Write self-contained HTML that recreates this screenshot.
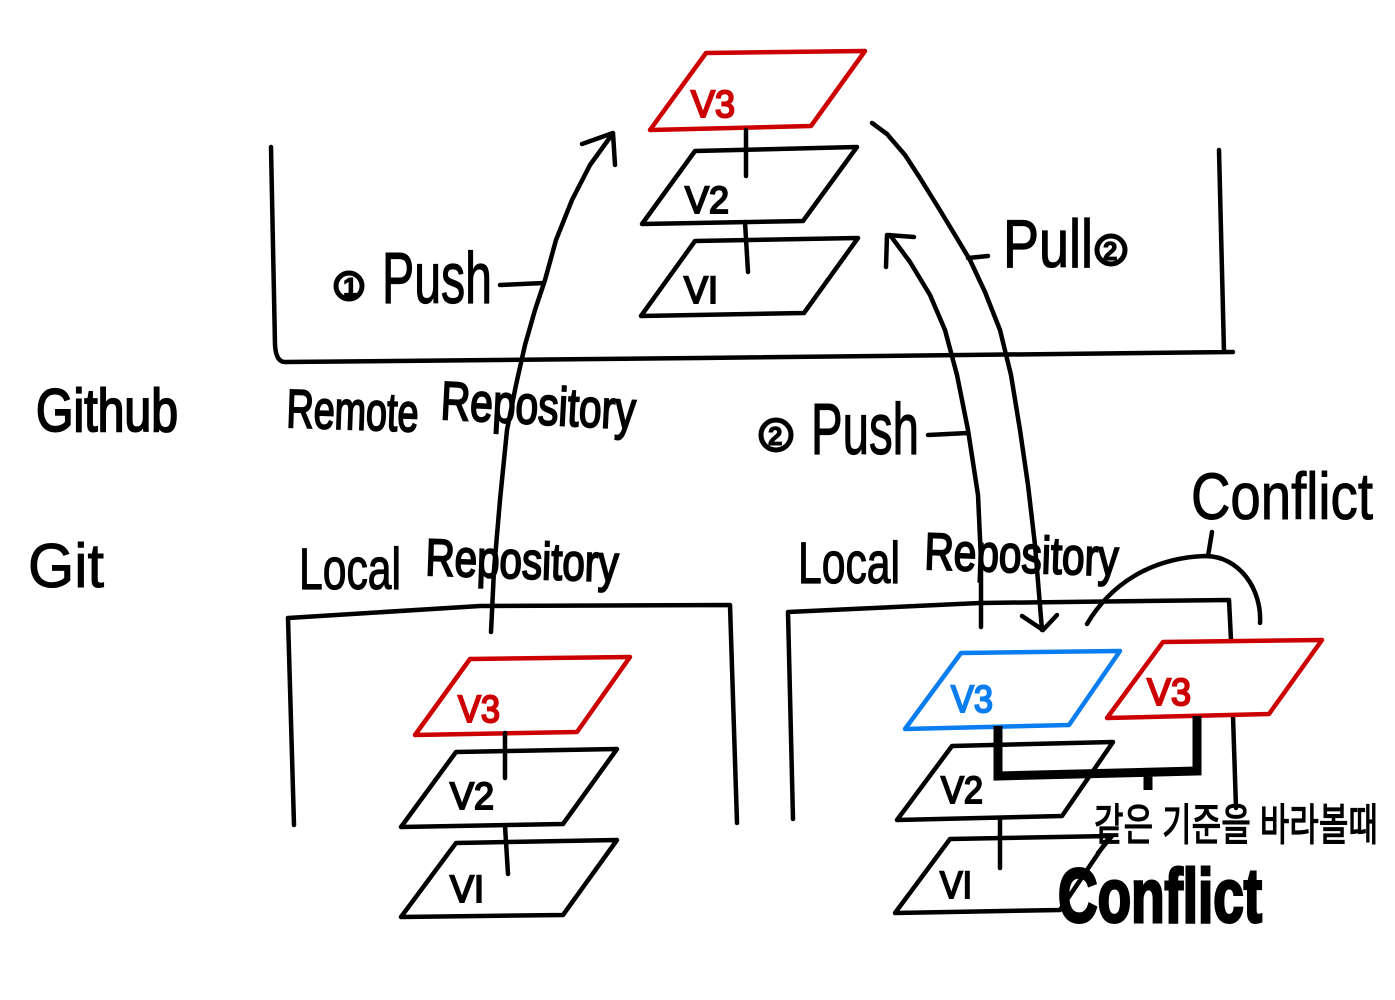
<!DOCTYPE html>
<html><head><meta charset="utf-8"><style>
html,body{margin:0;padding:0;background:#fff}
svg{display:block}
.l{fill:none;stroke:#000;stroke-width:4.5;stroke-linecap:round;stroke-linejoin:round}
.r{fill:none;stroke:#cc0000;stroke-width:4.5;stroke-linecap:round;stroke-linejoin:round}
.b{fill:none;stroke:#0a7df0;stroke-width:4.5;stroke-linecap:round;stroke-linejoin:round}
text{font-family:"Liberation Sans","Noto Sans CJK KR",sans-serif;fill:#000}
</style></head><body>
<svg width="1395" height="1000" viewBox="0 0 1395 1000" xmlns="http://www.w3.org/2000/svg">
<rect width="1395" height="1000" fill="#fff"/>
<!-- remote box -->
<path class="l" d="M271 147 L275 345 Q276 362 285 362 L700 358 L1233 352 M1219 150 L1224 352"/>
<!-- remote planes -->
<path class="r" d="M650 130 L706 53 L865 51 L811 126 Z"/>
<path class="l" d="M642 224 L695 151 L857 147 L803 221 Z"/>
<path class="l" d="M641 316 L695 241 L858 238 L804 313 Z"/>
<path class="l" d="M746 130 V176 M745 222 L748 272"/>
<!-- local left -->
<path class="l" d="M294 825 L288 618 L480 606 L730 605 L737 823"/>
<path class="r" d="M415 735 L470 659 L630 657 L577 732 Z"/>
<path class="l" d="M401 827 L456 752 L617 749 L563 824 Z"/>
<path class="l" d="M401 917 L456 843 L617 840 L563 915 Z"/>
<path class="l" d="M505 733 V778 M505 826 L508 874"/>
<!-- local right -->
<path class="l" d="M793 819 L788 612 L980 603 L1229 600 L1231 640 M1233 716 L1236 808"/>
<path class="b" d="M905 729 L961 653 L1120 651 L1069 725 Z"/>
<path class="r" d="M1107 718 L1163 642 L1322 640 L1269 714 Z"/>
<path class="l" d="M897 820 L952 746 L1113 742 L1062 816 Z"/>
<path class="l" d="M895 913 L950 839 L1110 836 L1060 910 Z"/>
<path class="l" d="M1000 818 V868"/>
<!-- thick bracket -->
<path fill="none" stroke="#000" stroke-width="9" stroke-linejoin="miter" d="M998 726 V776 L1197 771 V716 M1148 773 V790"/>
<path class="l" d="M1112 836 L1098 853"/>
<!-- arrows -->
<path class="l" d="M491 632 L494 570 L500 500 L507 430 L516 385 L525 345 L535 310 L545 280 L556 240 L572 200 L590 165 L611 136 M582 144 L613 133 L615 165"/>
<path class="l" d="M981 627 L981 560 L978 495 L968 430 L957 375 L945 330 L930 295 L910 262 L890 235 M886 267 L887 235 L914 237"/>
<path class="l" d="M872 123 L887 134 L905 155 L920 178 L938 207 L955 235 L970 260 L985 292 L1000 330 L1011 375 L1020 430 L1028 485 L1035 545 L1042 630 M1022 616 L1043 630 L1057 615"/>
<path class="l" d="M500 285 L544 283 M928 435 L968 433 M968 258 L988 256"/>
<!-- conflict bracket -->
<path class="l" d="M1087 624 C1110 585 1150 558 1205 556 C1240 556 1262 590 1260 623 M1208 556 L1212 532"/>
<!-- version labels -->
<g font-size="38" stroke-width="2">
<text x="691" y="117" style="fill:#cc0000" stroke="#cc0000" textLength="44" lengthAdjust="spacingAndGlyphs">V3</text>
<text x="685" y="213" stroke="#000" textLength="44" lengthAdjust="spacingAndGlyphs">V2</text>
<text x="684" y="303" stroke="#000" textLength="34" lengthAdjust="spacingAndGlyphs">VI</text>
<text x="458" y="722" style="fill:#cc0000" stroke="#cc0000" textLength="42" lengthAdjust="spacingAndGlyphs">V3</text>
<text x="450" y="809" stroke="#000" textLength="44" lengthAdjust="spacingAndGlyphs">V2</text>
<text x="450" y="902" stroke="#000" textLength="34" lengthAdjust="spacingAndGlyphs">VI</text>
<text x="951" y="712" style="fill:#0a7df0" stroke="#0a7df0" textLength="42" lengthAdjust="spacingAndGlyphs">V3</text>
<text x="1147" y="705" style="fill:#cc0000" stroke="#cc0000" textLength="44" lengthAdjust="spacingAndGlyphs">V3</text>
<text x="941" y="803" stroke="#000" textLength="42" lengthAdjust="spacingAndGlyphs">V2</text>
<text x="940" y="898" stroke="#000" textLength="32" lengthAdjust="spacingAndGlyphs">VI</text>
</g>
<!-- big labels -->
<text x="382" y="303" font-size="72" stroke="#000" stroke-width="1.2" textLength="110" lengthAdjust="spacingAndGlyphs">Push</text>
<text x="811" y="454" font-size="72" stroke="#000" stroke-width="1.2" textLength="108" lengthAdjust="spacingAndGlyphs">Push</text>
<text x="1003" y="267" font-size="68" stroke="#000" stroke-width="1.2" textLength="90" lengthAdjust="spacingAndGlyphs">Pull</text>
<text x="36" y="431" font-size="60" stroke="#000" stroke-width="2" textLength="142" lengthAdjust="spacingAndGlyphs">Github</text>
<text x="28" y="587" font-size="62" stroke="#000" stroke-width="1" textLength="76" lengthAdjust="spacingAndGlyphs">Git</text>
<text x="286" y="427" font-size="54" stroke="#000" stroke-width="2" textLength="132" lengthAdjust="spacingAndGlyphs" transform="rotate(2 286 427)">Remote</text>
<text x="440" y="419" font-size="54" stroke="#000" stroke-width="2" textLength="195" lengthAdjust="spacingAndGlyphs" transform="rotate(3 440 419)">Repository</text>
<text x="299" y="589" font-size="58" stroke="#000" stroke-width="1.2" textLength="102" lengthAdjust="spacingAndGlyphs">Local</text>
<text x="425" y="575" font-size="52" stroke="#000" stroke-width="2" textLength="193" lengthAdjust="spacingAndGlyphs" transform="rotate(2 425 575)">Repository</text>
<text x="798" y="583" font-size="58" stroke="#000" stroke-width="1.2" textLength="102" lengthAdjust="spacingAndGlyphs">Local</text>
<text x="924" y="569" font-size="52" stroke="#000" stroke-width="2" textLength="194" lengthAdjust="spacingAndGlyphs" transform="rotate(2 924 569)">Repository</text>
<text x="1191" y="519" font-size="66" stroke="#000" stroke-width="1" textLength="182" lengthAdjust="spacingAndGlyphs">Conflict</text>
<text x="1058" y="922" font-size="76" font-weight="bold" stroke="#000" stroke-width="3" textLength="204" lengthAdjust="spacingAndGlyphs">Conflict</text>
<text x="1094" y="840" font-size="44" stroke="#000" stroke-width="1.2" textLength="284" lengthAdjust="spacingAndGlyphs">같은 기준을 바라볼때</text>
<!-- circled numbers -->
<g stroke="#000" stroke-width="5" fill="none">
<circle cx="349" cy="286" r="13"/><circle cx="776" cy="435" r="15"/><circle cx="1111" cy="250" r="14"/>
</g>
<text x="343" y="296" font-size="26" font-weight="bold" stroke="#000" stroke-width="1">1</text>
<text x="768" y="445" font-size="26" font-weight="bold" stroke="#000" stroke-width="1">2</text>
<text x="1103" y="260" font-size="26" font-weight="bold" stroke="#000" stroke-width="1">2</text>
</svg>
</body></html>
